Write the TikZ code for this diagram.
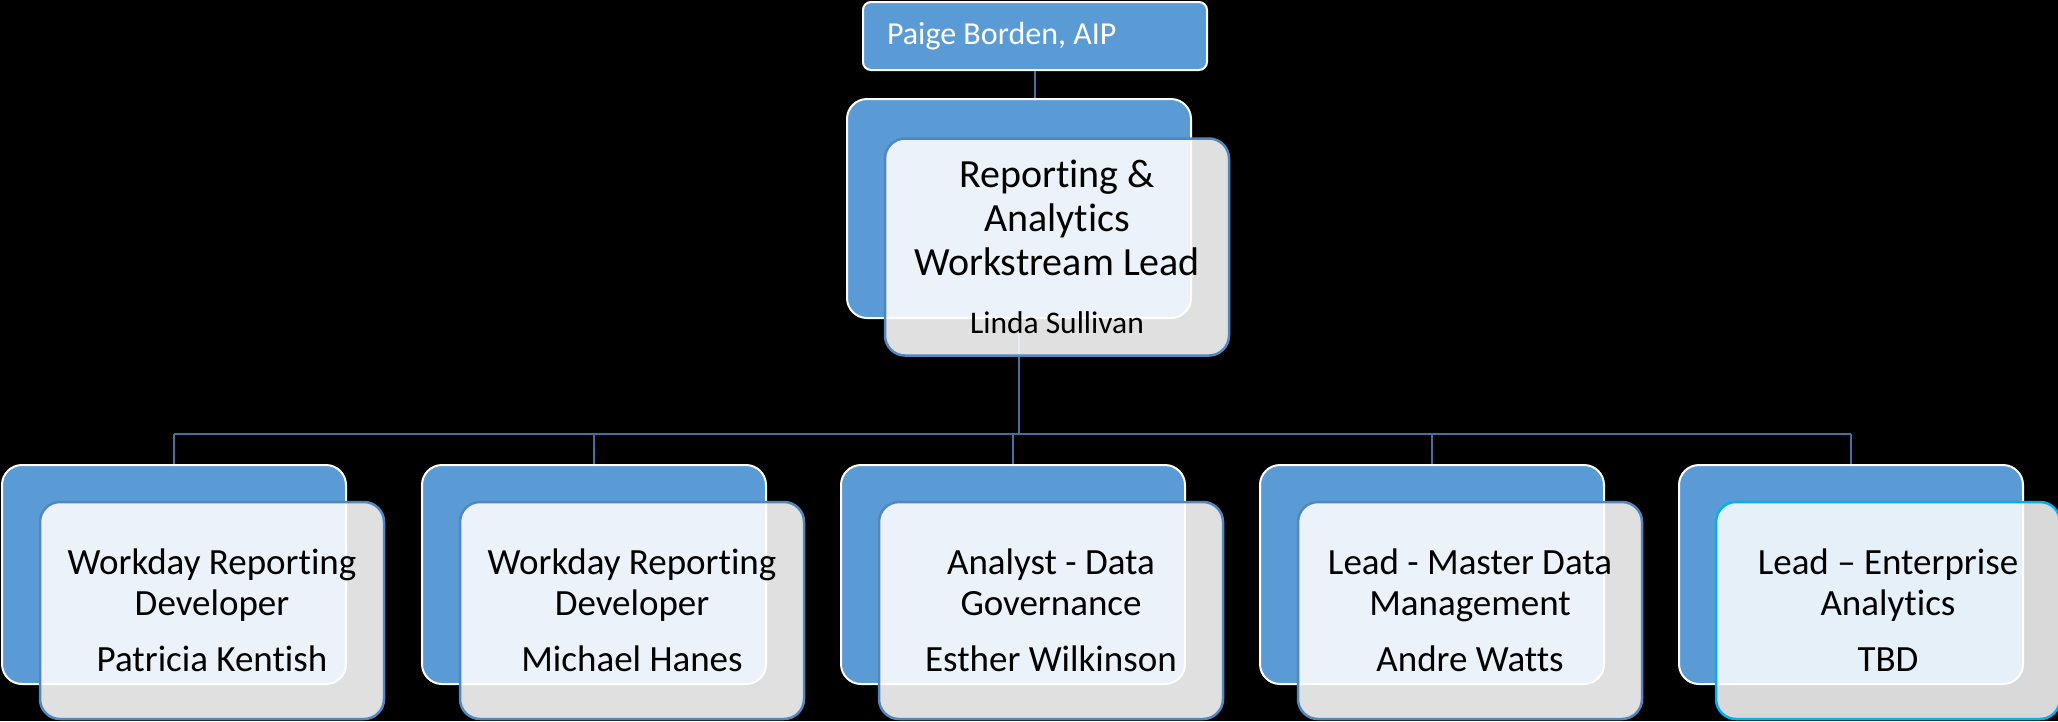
\documentclass[tikz,border=0pt]{standalone}
\usepackage{fontspec}
\setmainfont[Ligatures=NoCommon]{Carlito}
\definecolor{backblue}{RGB}{91,155,213}
\definecolor{frontline}{RGB}{80,135,190}
\definecolor{connblue}{RGB}{65,113,156}
\definecolor{cyanline}{RGB}{0,176,240}
\begin{document}
\begin{tikzpicture}[x=1pt,y=-1pt,
  back/.style={draw=white, line width=2pt, fill=backblue, rounded corners=20pt,
    minimum width=344pt, minimum height=219pt, inner sep=0pt},
  front/.style={draw=frontline, line width=2.5pt, fill=white, fill opacity=0.88,
    text opacity=1, draw opacity=1, rounded corners=20pt, minimum width=344pt,
    minimum height=217pt, inner sep=0pt, align=center,
    font=\fontsize{37}{41}\selectfont},
  conn/.style={draw=connblue, line width=2.5pt},
  topbox/.style={draw=white, line width=2pt, fill=backblue, rounded corners=8pt,
    minimum width=344pt, minimum height=68pt, inner xsep=24pt,
    inner ysep=0pt, text=white, font=\fontsize{32}{38}\selectfont}
]
\fill[black] (0,0) rectangle (2058,721);
\useasboundingbox (0,0) rectangle (2058,721);

% top box
\node[topbox] (paige) at (1035,36) {\makebox[296pt][l]{Paige Borden, AIP}};

% back boxes
\node[back] (cback) at (1019,208.5) {};
\node[back] (b1) at (174,574.5) {};
\node[back] (b2) at (594,574.5) {};
\node[back] (b3) at (1013,574.5) {};
\node[back] (b4) at (1432,574.5) {};
\node[back] (b5) at (1851,574.5) {};

\coordinate (bar) at (1019,434);

% connectors
\draw[conn] (paige.south) -- (paige.south |- cback.north);
\draw[conn] (cback.south) -- (bar);
\draw[conn] (b1.north |- bar) -- (b5.north |- bar);
\foreach \b in {b1,b2,b3,b4,b5}{
  \draw[conn] (\b.north |- bar) -- (\b.north);
}

% front boxes
\node[front, font=\fontsize{40}{44}\selectfont] (cfront) at (1057,247)
  {Reporting \&\\Analytics\\Workstream Lead\\[14pt]{\fontsize{31.5}{36}\selectfont Linda Sullivan}};
\node[front] (f1) at (212,610.5) {Workday Reporting\\Developer\\[15pt]Patricia Kentish};
\node[front] (f2) at (632,610.5) {Workday Reporting\\Developer\\[15pt]Michael Hanes};
\node[front] (f3) at (1051,610.5) {Analyst - Data\\Governance\\[15pt]Esther Wilkinson};
\node[front] (f4) at (1470,610.5) {Lead - Master Data\\Management\\[15pt]Andre Watts};
\node[front, draw=cyanline, fill opacity=0.85] (f5) at (1888,610.5) {Lead – Enterprise\\Analytics\\[15pt]TBD};
\end{tikzpicture}
\end{document}
